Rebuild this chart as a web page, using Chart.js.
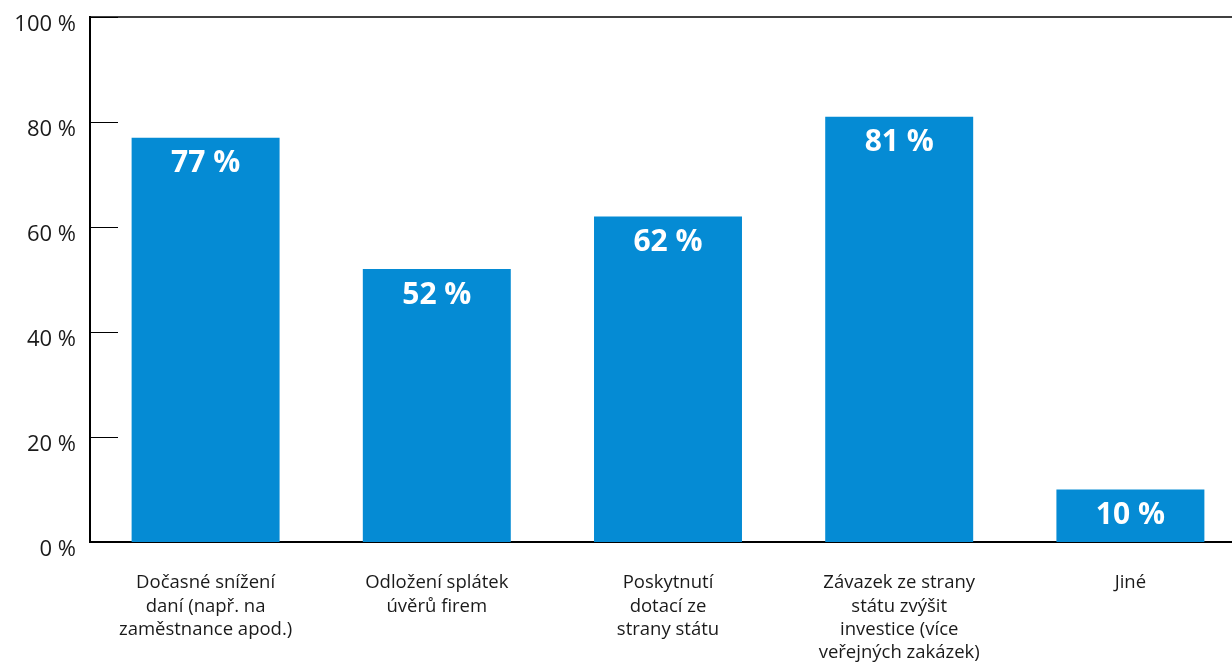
<!DOCTYPE html>
<html>
<head>
<meta charset="utf-8">
<script src="https://cdn.jsdelivr.net/npm/chart.js@4/dist/chart.umd.min.js"></script>
<style>
  html, body { margin: 0; padding: 0; background: #fff; overflow: hidden; }
  #wrap { width: 1232px; height: 666px; overflow: hidden; }
</style>
</head>
<body>
<div id="wrap"><canvas id="chart" width="1246" height="666"></canvas></div>
<script>
// Data
var categories = [
    ['Dočasné snížení', 'daní (např. na', 'zaměstnance apod.)'],
    ['Odložení splátek', 'úvěrů firem'],
    ['Poskytnutí', 'dotací ze', 'strany státu'],
    ['Závazek ze strany', 'státu zvýšit', 'investice (více', 'veřejných zakázek)'],
    ['Jiné']
];
var values = [77, 52, 62, 81, 10];
var yTicks = [0, 20, 40, 60, 80, 100];

var FONT = "'Open Sans', 'Noto Sans', sans-serif";
var BLUE = '#058bd4';

// short tick marks inside the plot + top frame line
var innerTicks = {
    id: 'innerTicks',
    afterDraw: function(chart) {
        var ctx = chart.ctx, a = chart.chartArea, y = chart.scales.y;
        ctx.save();
        ctx.strokeStyle = '#000';
        ctx.lineWidth = 1;
        yTicks.forEach(function(v) {
            var py = Math.round(y.getPixelForValue(v)) + 0.5;
            ctx.beginPath();
            ctx.moveTo(a.left, py);
            ctx.lineTo(a.left + 28, py);
            ctx.stroke();
        });
        ctx.lineWidth = 1.5;
        ctx.beginPath();
        ctx.moveTo(a.left, a.top);
        ctx.lineTo(a.right, a.top);
        ctx.stroke();
        ctx.restore();
    }
};

// value labels inside bar tops
var barLabels = {
    id: 'barLabels',
    afterDatasetsDraw: function(chart) {
        var ctx = chart.ctx;
        var meta = chart.getDatasetMeta(0);
        ctx.save();
        ctx.fillStyle = '#fff';
        ctx.font = 'bold 30px ' + FONT;
        ctx.textAlign = 'center';
        ctx.textBaseline = 'middle';
        meta.data.forEach(function(bar, i) {
            ctx.fillText(values[i] + '\u00a0%', bar.x, bar.y + 26);
        });
        ctx.restore();
    }
};

new Chart(document.getElementById('chart'), {
    type: 'bar',
    data: {
        labels: categories,
        datasets: [{
            data: values,
            backgroundColor: BLUE,
            barPercentage: 0.64,
            categoryPercentage: 1
        }]
    },
    options: {
        responsive: false,
        animation: false,
        layout: { padding: { top: 17, left: 0, right: 0, bottom: 0 } },
        plugins: { legend: { display: false }, tooltip: { enabled: false } },
        scales: {
            x: {
                grid: { display: false, drawTicks: false },
                border: { display: true, color: '#000', width: 2 },
                ticks: {
                    color: '#1a1a1a',
                    padding: 29,
                    maxRotation: 0,
                    autoSkip: false,
                    font: { family: FONT, size: 18.5, lineHeight: 1.27 }
                },
                afterFit: function(scale) {
                    scale.height = 124;
                    scale.paddingLeft = 0;
                    scale.paddingRight = 0;
                }
            },
            y: {
                min: 0,
                max: 100,
                grid: { display: false, drawTicks: false },
                border: { display: true, color: '#000', width: 2 },
                ticks: {
                    stepSize: 20,
                    padding: 14,
                    labelOffset: 8,
                    color: '#1a1a1a',
                    font: { family: FONT, size: 22 },
                    callback: function(v) { return v + '\u00a0%'; }
                },
                afterFit: function(scale) {
                    scale.width = 90;
                    scale.paddingTop = 0;
                    scale.paddingBottom = 0;
                }
            }
        }
    },
    plugins: [innerTicks, barLabels]
});
</script>
</body>
</html>
